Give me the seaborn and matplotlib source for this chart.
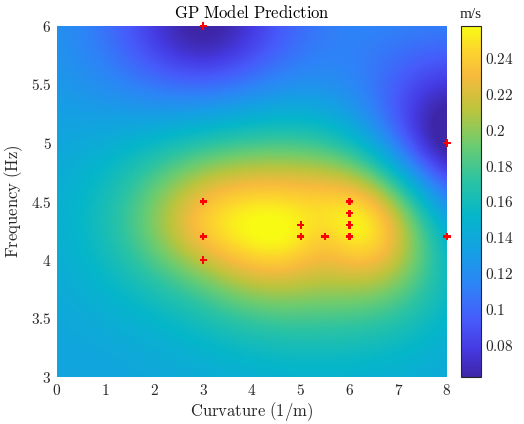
import numpy as np
import matplotlib
matplotlib.use("Agg")
import matplotlib.pyplot as plt
from matplotlib.colors import LinearSegmentedColormap
from matplotlib.ticker import FuncFormatter
import seaborn as sns

# measured points (curvature 1/m, frequency Hz, speed m/s)
curv = [3, 3, 3, 3, 5, 5, 5.5, 6, 6, 6, 6, 8, 8]
freq = [6, 4.5, 4.2, 4.0, 4.3, 4.2, 4.2, 4.5, 4.4, 4.3, 4.2, 5, 4.2]
speed = [0.060, 0.230, 0.234, 0.214, 0.252, 0.252, 0.240, 0.242, 0.252, 0.254, 0.252, 0.058, 0.150]

# GP settings (matern 5/2)
mean_speed = 0.134
len_x, len_y = 1.65, 0.62
sig_f, sig_n = 0.06, 0.004
clim = (0.0622, 0.2578)

# prediction grid
gx = np.linspace(0, 8, 321)
gy = np.linspace(3, 6, 241)

def kern(ax_, ay_, bx_, by_):
    dx = (np.asarray(ax_)[:, None] - np.asarray(bx_)[None, :]) / len_x
    dy = (np.asarray(ay_)[:, None] - np.asarray(by_)[None, :]) / len_y
    r = np.sqrt(dx ** 2 + dy ** 2) * np.sqrt(5)
    return sig_f ** 2 * (1 + r + r ** 2 / 3) * np.exp(-r)

K = kern(curv, freq, curv, freq) + sig_n ** 2 * np.eye(len(curv))
alpha = np.linalg.solve(K, np.array(speed) - mean_speed)
GX, GY = np.meshgrid(gx, gy)
Ks = kern(GX.ravel(), GY.ravel(), curv, freq)
pred = (mean_speed + Ks @ alpha).reshape(GX.shape)

# approx parula
parula_pts = [
    (0.00, (0.2422, 0.1504, 0.6603)),
    (0.08, (0.2720, 0.2300, 0.8900)),
    (0.16, (0.2780, 0.3550, 0.9850)),
    (0.26, (0.1800, 0.5150, 0.9700)),
    (0.36, (0.0800, 0.6300, 0.8900)),
    (0.46, (0.0200, 0.7150, 0.7900)),
    (0.56, (0.1700, 0.7650, 0.6400)),
    (0.66, (0.4200, 0.8000, 0.4400)),
    (0.76, (0.7300, 0.7700, 0.2400)),
    (0.86, (0.9700, 0.7300, 0.2400)),
    (0.93, (0.9900, 0.8300, 0.1800)),
    (1.00, (0.9769, 0.9839, 0.0805)),
]
parula = LinearSegmentedColormap.from_list("parula", parula_pts)

sns.set_theme(style="white")
plt.rcParams["mathtext.fontset"] = "cm"
plt.rcParams["font.family"] = ["DejaVu Serif"]

fig = plt.figure(figsize=(5.24, 4.24), dpi=100)
ax = fig.add_axes([57 / 524, 47 / 424, 390 / 524, 351 / 424])
cax = fig.add_axes([461 / 524, 47 / 424, 20 / 524, 351 / 424])

im = ax.imshow(pred, origin="lower", extent=(0, 8, 3, 6), aspect="auto",
               cmap=parula, vmin=clim[0], vmax=clim[1], interpolation="bilinear", zorder=0)
sns.scatterplot(x=curv, y=freq, marker="P", s=28, color="red", edgecolor="none",
                ax=ax, clip_on=False, zorder=3, legend=False)

ax.set_xlim(0, 8)
ax.set_ylim(3, 6)
ax.set_xticks(range(0, 9))
ax.set_yticks([3, 3.5, 4, 4.5, 5, 5.5, 6])
fmt = FuncFormatter(lambda v, p: "$%s$" % ("%g" % v))
ax.xaxis.set_major_formatter(fmt)
ax.yaxis.set_major_formatter(fmt)
ax.tick_params(length=0, labelsize=11, colors="#262626", pad=4)
for s in ax.spines.values():
    s.set_visible(False)
ax.set_xlabel(r"$\mathrm{Curvature\ (1/m)}$", fontsize=12, color="#262626", labelpad=2)
ax.set_ylabel(r"$\mathrm{Frequency\ (Hz)}$", fontsize=12, color="#262626", labelpad=4)
ax.set_title(r"$\mathrm{GP\ Model\ Prediction}$", fontsize=12, color="#000000", pad=6)

cb = fig.colorbar(im, cax=cax)
cb.set_ticks([0.08, 0.1, 0.12, 0.14, 0.16, 0.18, 0.2, 0.22, 0.24])
cb.ax.yaxis.set_major_formatter(fmt)
cb.ax.tick_params(direction="in", length=4, width=0.8, labelsize=11, colors="#262626", pad=3)
cb.outline.set_edgecolor("#262626")
cb.outline.set_linewidth(0.8)
cax.set_title("m/s", fontsize=11, family="Liberation Serif", color="#262626", pad=6)

fig.savefig("out.png", dpi=100)
